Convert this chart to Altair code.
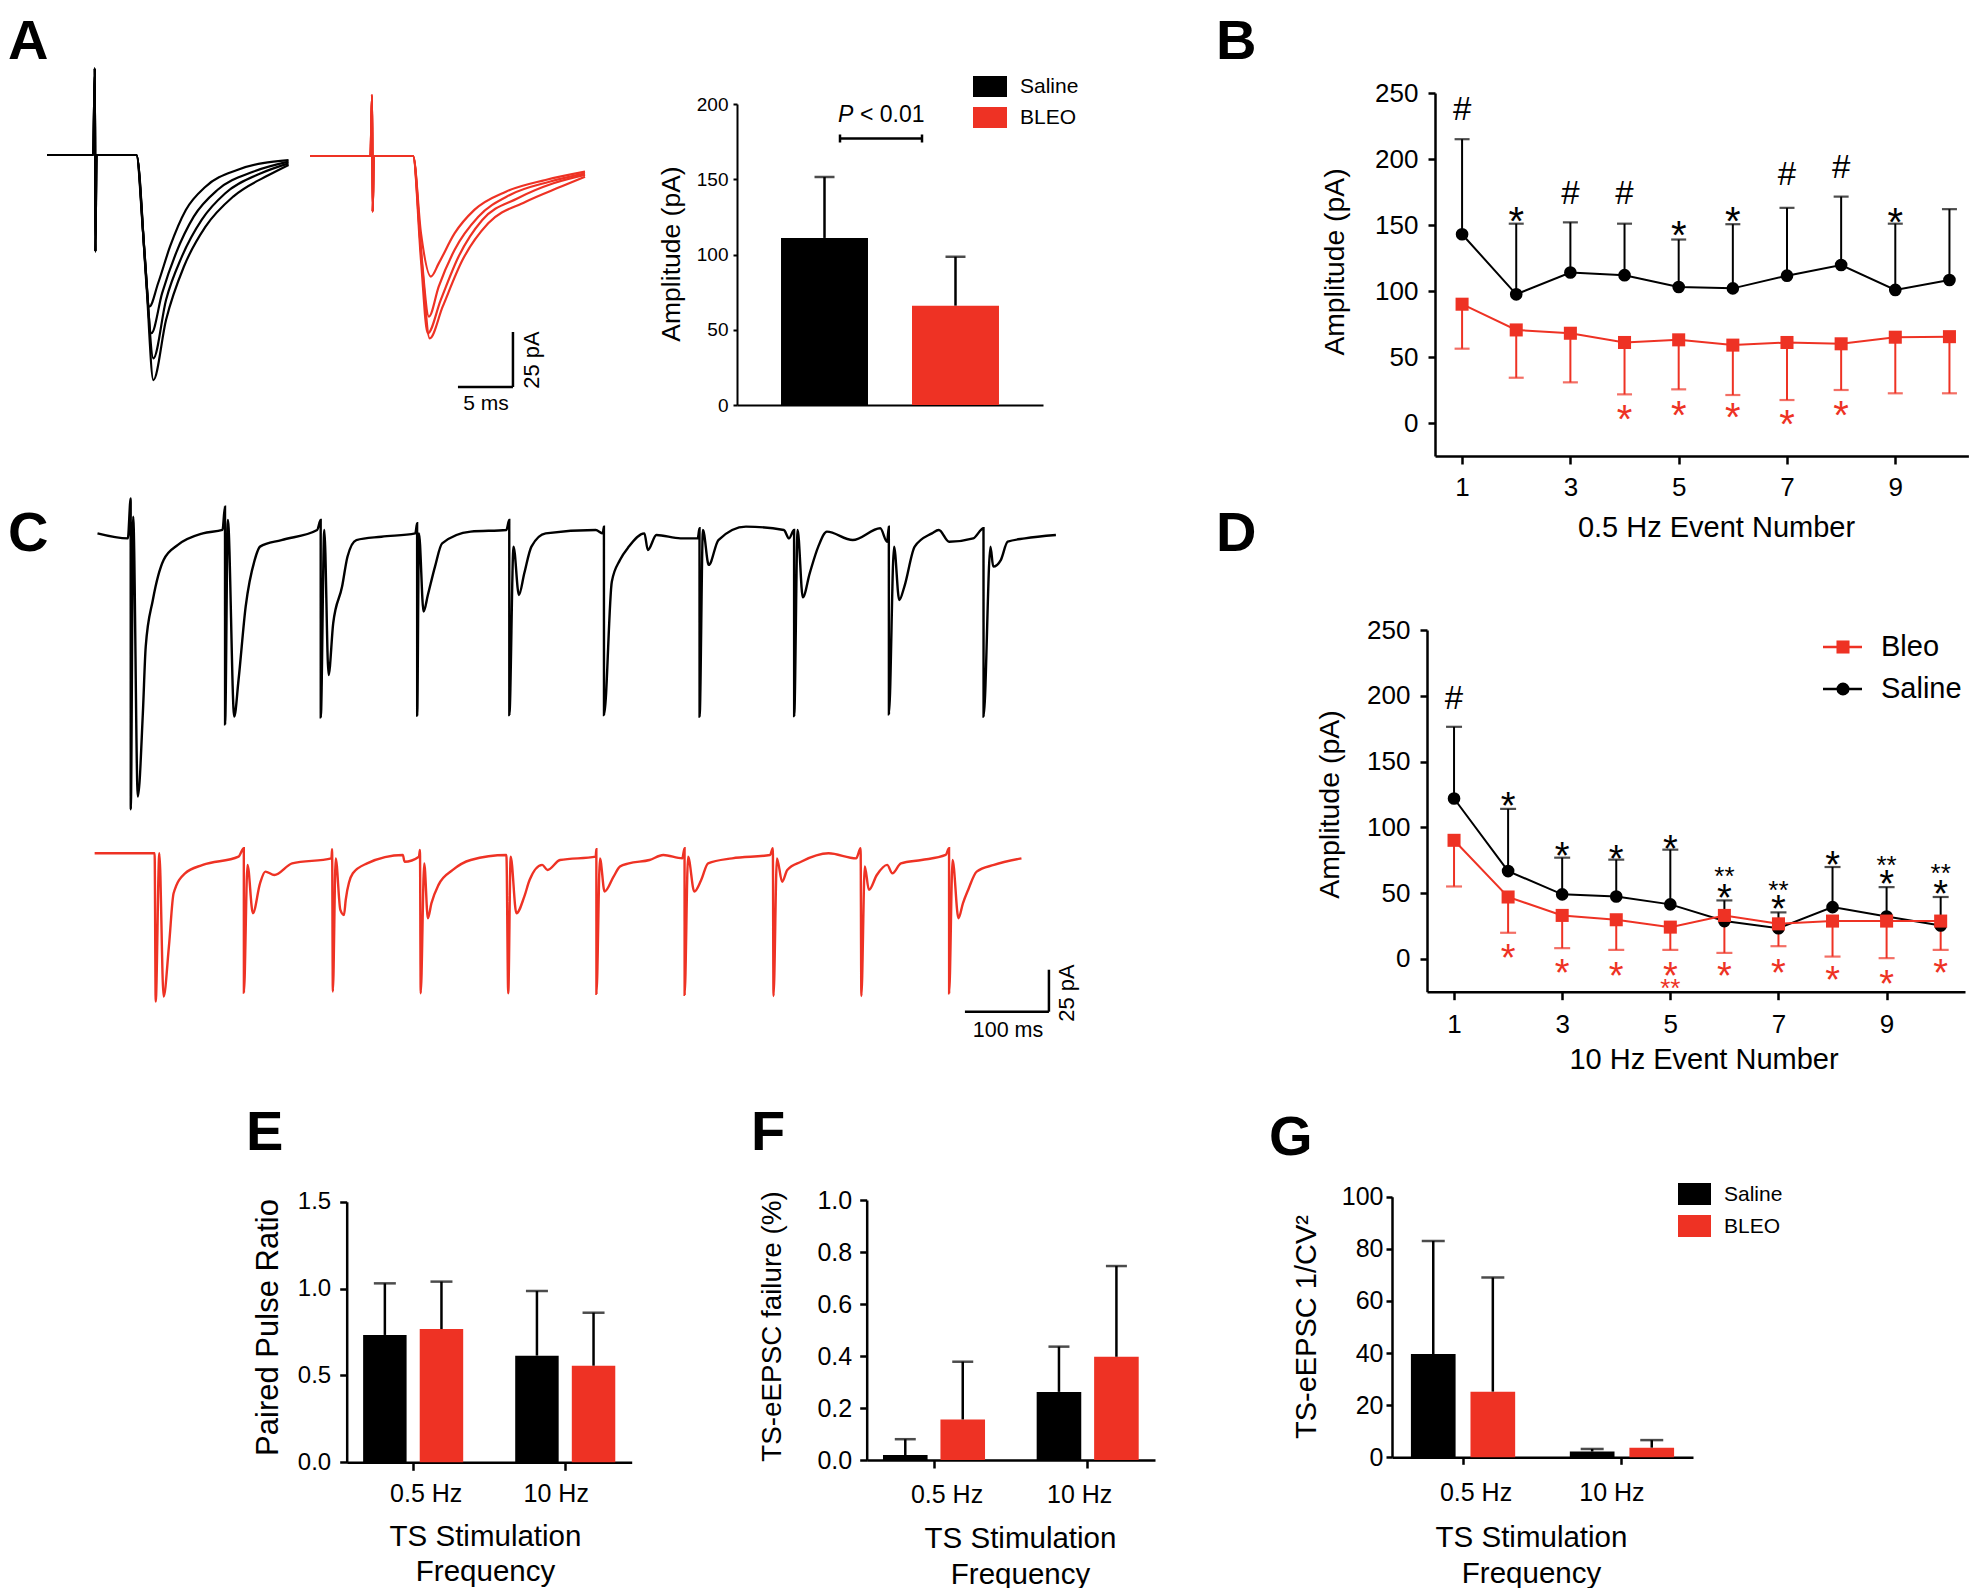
import altair as alt
import pandas as pd

W, H = 1964, 1580
FONT = "Liberation Sans"
BLK = "#000000"
RED = "#EE3224"

groups = ["Saline", "BLEO"]
freqs = ["0.5 Hz", "10 Hz"]
events = [1, 2, 3, 4, 5, 6, 7, 8, 9, 10]

# ---------------- Panel A : example sweeps (time ms, current pA) ----------------
a_saline_pre = [(0, 0), (4.2, 0), (4.35, 39.4), (4.4, -43.9), (4.5, 0), (8.13, 0)]
a_saline_sweeps = [
    [(8.74, -35.6), (9.31, -68.9), (10.10, -58.3), (11.18, -41.7), (12.62, -25.0), (14.41, -14.4), (17.29, -6.8), (21.96, -2.3)],
    [(8.85, -43.2), (9.49, -81.0), (10.46, -62.9), (11.72, -44.7), (13.34, -28.0), (15.49, -15.9), (18.73, -7.6), (21.96, -3.0)],
    [(8.95, -50.8), (9.67, -92.4), (10.82, -65.9), (12.26, -46.2), (14.06, -29.5), (16.21, -17.4), (19.45, -8.3), (21.96, -3.8)],
    [(9.03, -58.3), (9.67, -102.3), (10.82, -75.0), (12.44, -50.8), (14.41, -32.6), (16.93, -18.9), (20.16, -9.1), (21.96, -4.5)],
]
a_bleo_pre = [(0, 0), (5.5, 0), (5.64, 27.7), (5.7, -25.3), (5.8, 0), (9.37, 0)]
a_bleo_sweeps = [
    [(10.09, -35.2), (10.99, -54.8), (11.70, -48.8), (13.14, -35.2), (14.94, -24.5), (17.81, -16.2), (21.41, -10.9), (25.0, -7.1)],
    [(10.09, -42.7), (10.81, -73.0), (11.70, -59.4), (13.14, -42.7), (15.30, -27.6), (18.17, -17.7), (21.77, -11.7), (25.0, -7.9)],
    [(10.09, -47.3), (10.70, -80.6), (11.88, -65.5), (13.50, -45.8), (15.66, -29.1), (18.89, -19.2), (22.13, -12.4), (25.0, -8.6)],
    [(10.20, -50.3), (10.88, -82.9), (12.06, -68.5), (13.86, -47.3), (16.20, -30.6), (19.61, -20.8), (22.84, -13.9), (25.0, -9.4)],
]
a_amp_mean = [111.0, 66.0]
a_amp_sd = [40.5, 32.5]

# ---------------- Panel B : 0.5 Hz ----------------
b_saline_mean = [143, 97.5, 114, 112, 103, 102, 111.6, 119.7, 100.8, 108.3]
b_saline_sd = [72, 53.5, 38, 39, 36, 48.6, 51.4, 51.8, 50.2, 53.7]
b_bleo_mean = [90, 70.5, 68, 61, 63, 59, 61, 60, 65, 65.4]
b_bleo_sd = [33.7, 36.2, 37.2, 39.3, 37.5, 37.8, 43.6, 35, 42.5, 42.9]
b_hash_events = [1, 3, 4, 7, 8]
b_hash_y = [238.6, 175, 175, 189, 194]
b_star_events = [2, 5, 6, 9]
b_star_y = [160, 149.5, 160, 159]
b_rstar_events = [4, 5, 6, 7, 8]
b_rstar_y = [9.8, 12.9, 11, 6, 12.9]

# ---------------- Panel C : 10 Hz trains (time ms, current pA) ----------------
c_saline_trace = [
    (0, -0.2), (36.1, -3.2), (39.5, 20.6), (39.6, -164.5), (42.5, 9.7), (48.0, -156.9), (54.0, -107.3), (57.4, -67.7),
    (65.9, -39.9), (78.7, -16.1), (95.7, -7.1), (125.4, -0.2), (148.8, 1.8),
    (151.8, 15.7), (151.9, -113.9), (155.2, 7.7), (162.8, -109.3), (167.9, -87.5), (176.4, -43.8), (187.1, -16.1),
    (193.5, -8.1), (219.0, -4.2), (261.5, 1.8),
    (265.7, 7.7), (265.8, -109.7), (270.0, 1.8), (275.1, -84.5), (280.6, -53.8), (291.2, -31.9), (297.6, -14.1),
    (308.2, -4.2), (338.0, -2.2), (378.4, -0.2),
    (380.5, 5.8), (380.6, -108.7), (382.7, -0.2), (388.2, -46.8), (393.3, -36.9), (401.8, -20.0), (410.3, -6.2),
    (444.3, 0.8), (486.8, 1.8),
    (490.2, 7.7), (490.3, -108.3), (495.3, -8.1), (501.7, -36.9), (508.1, -24.0), (516.6, -8.1), (533.6, -0.2),
    (593.1, 1.8), (601.6, -0.2),
    (602.9, 3.8), (603.0, -108.3), (612.3, -29.0), (622.0, -16.1), (632.6, -8.1), (651.1, -0.2), (655.2, -10.1),
    (665.4, -1.2), (694.1, -3.2), (714.6, -3.2),
    (716.7, 2.8), (716.8, -109.3), (720.8, 1.8), (727.7, -19.0), (739.2, -4.2), (772.0, 3.8), (817.1, 1.8), (823.3, -3.2),
    (829.3, 1.8), (829.4, -108.9), (833.5, 1.8), (839.7, -38.3), (847.9, -24.0), (858.1, -8.1), (868.4, 0.8),
    (899.1, -4.2), (931.9, 2.8), (940.1, -5.2),
    (942.1, 3.8), (942.2, -107.9), (948.3, -8.1), (954.5, -39.9), (960.6, -31.9), (972.9, -8.1), (993.4, -0.2),
    (1001.6, 1.8), (1013.9, -5.2), (1042.6, -3.2),
    (1054.8, 2.8), (1054.9, -109.3), (1063.1, -8.1), (1066.4, -20.0), (1075.4, -16.1), (1083.6, -5.2), (1104.1, -3.2),
    (1141.0, -1.2),
]
c_bleo_trace = [
    (-3.4, 0), (68.0, 0), (69.3, -88.3), (73.6, 0), (78.7, -85.3), (85.0, -55.6), (90.6, -23.8), (104.2, -11.9),
    (125.4, -6.9), (167.9, -2.0),
    (174.2, 3.0), (174.3, -82.9), (178.6, -6.9), (185.0, -35.7), (193.5, -17.9), (199.8, -10.9), (210.5, -12.9),
    (231.7, -6.0), (278.5, -3.0),
    (279.3, 2.4), (280.2, -82.3), (283.6, -3.0), (289.1, -33.7), (293.4, -36.7), (295.5, -27.8), (304.0, -11.9),
    (321.0, -6.0), (363.5, -1.0), (365.6, -5.0), (382.7, -2.0),
    (383.9, 2.0), (384.8, -83.3), (389.0, -6.0), (393.3, -38.7), (397.5, -29.8), (406.0, -18.8), (423.0, -9.9),
    (444.3, -4.0), (486.8, -1.0),
    (489.0, -83.3), (491.9, -2.0), (498.7, -35.7), (508.1, -25.8), (514.4, -15.9), (529.4, -6.9), (535.7, -9.9),
    (550.6, -4.0), (593.1, -2.0),
    (593.9, 2.4), (594.0, -83.7), (598.2, -3.0), (603.7, -22.8), (614.4, -13.9), (622.0, -7.9), (632.6, -6.0),
    (657.2, -4.0), (673.6, -1.0), (696.2, -3.0),
    (698.9, 3.0), (699.0, -84.3), (703.1, -2.0), (710.5, -22.8), (718.7, -15.9), (726.9, -6.0), (755.6, -3.0),
    (800.7, -1.0),
    (804.0, 3.0), (804.8, -84.9), (808.9, -3.0), (815.1, -16.9), (821.2, -9.9), (837.6, -5.0), (870.4, 0),
    (903.2, -3.0),
    (908.5, 3.0), (909.4, -84.9), (913.5, -7.9), (918.4, -21.8), (927.8, -12.9), (940.1, -6.9), (946.3, -11.9),
    (956.5, -6.0), (981.1, -4.0), (1009.8, -1.0),
    (1013.8, 3.0), (1013.9, -83.3), (1018.0, -4.0), (1025.0, -38.7), (1030.3, -29.8), (1036.5, -21.8),
    (1046.7, -10.9), (1067.2, -6.9), (1100.0, -3.0),
]

# ---------------- Panel D : 10 Hz ----------------
d_saline_mean = [121.9, 66.7, 49, 47.4, 41.4, 28.7, 23.3, 39.3, 32.2, 25.4]
d_saline_sd = [54.5, 47.3, 27.9, 28, 41.6, 15.7, 12, 30.5, 22.3, 21.6]
d_bleo_mean = [90.1, 47, 33, 29.7, 24.1, 33, 26.6, 28.7, 28.7, 28.7]
d_bleo_sd = [35.1, 27.2, 24.9, 22.9, 17.3, 28.5, 17, 27, 28.2, 21.9]
d_hash_events = [1]
d_hash_y = [199]
d_star_events = [2, 3, 4, 5, 6, 7, 8, 9, 10]
d_star_y = [123, 85, 82.5, 90.6, 53.3, 44.4, 78, 63.4, 55.8]
d_dstar_events = [6, 7, 9, 10]
d_dstar_y = [67.3, 57, 76, 69.8]
d_rstar_events = [2, 3, 4, 5, 6, 7, 8, 9, 10]
d_rstar_y = [7.6, -3.8, -6.4, -6.4, -6.4, -3.8, -9.4, -12, -3.8]
d_rdstar_events = [5]
d_rdstar_y = [-17.8]

# ---------------- Panels E, F, G ----------------
e_saline, e_saline_sd = [0.733, 0.614], [0.297, 0.372]
e_bleo, e_bleo_sd = [0.767, 0.556], [0.273, 0.305]
f_saline, f_saline_sd = [0.019, 0.262], [0.061, 0.174]
f_bleo, f_bleo_sd = [0.156, 0.397], [0.222, 0.349]
g_saline, g_saline_sd = [39.6, 2.2], [43.4, 1.0]
g_bleo, g_bleo_sd = [25.2, 3.7], [43.8, 2.9]


# ================= helpers =================
def lin(domain, rng):
    return alt.Scale(domain=domain, range=rng, nice=False, zero=False)


def ax_left(px, values, fmt, lsize, tsize, lpad, title=None, tfs=28, tx=0, ty=0, width=2.5):
    kw = dict(orient="left", offset=-px, values=values, format=fmt, labelFontSize=lsize, labelFont=FONT,
              labelColor=BLK, tickSize=tsize, labelPadding=lpad, tickColor=BLK, domainColor=BLK,
              tickWidth=width, domainWidth=width, grid=False, labelFlush=False, labelOverlap=False)
    if title is not None:
        kw.update(title=title, titleFont=FONT, titleFontSize=tfs, titleFontWeight="normal", titleColor=BLK,
                  titleX=tx, titleY=ty, titleAngle=270, titleAlign="center", titleBaseline="middle")
    else:
        kw["title"] = None
    return alt.Axis(**kw)


def ax_bottom(py, values=None, fmt=None, lsize=25, tsize=8, lpad=10, title=None, tfs=29, tx=0, ty=0,
              labels=True, ticks=True, width=2.5, lh=35, loff=None):
    kw = dict(orient="bottom", offset=py - H, labelFontSize=lsize, labelFont=FONT, labelColor=BLK,
              tickSize=tsize, labelPadding=lpad, tickColor=BLK, domainColor=BLK, tickWidth=width,
              domainWidth=width, grid=False, labelFlush=False, labelOverlap=False, labels=labels,
              ticks=ticks, labelAngle=0)
    if values is not None:
        kw["values"] = values
    if fmt is not None:
        kw["format"] = fmt
    if loff is not None:
        kw["labelOffset"] = {"condition": {"test": "datum.value == '%s'" % freqs[0], "value": loff[0]},
                             "value": loff[1]}
    if title is not None:
        kw.update(title=title, titleFont=FONT, titleFontSize=tfs, titleFontWeight="normal", titleColor=BLK,
                  titleX=tx, titleY=ty, titleAlign="center", titleBaseline="alphabetic", titleLineHeight=lh)
    else:
        kw["title"] = None
    return alt.Axis(**kw)


def txt(label, x, y, size, weight="normal", align="left", baseline="alphabetic", angle=0, color=BLK,
        style="normal"):
    props = dict(font=FONT, fontSize=size, fontWeight=weight, align=align, baseline=baseline, color=color,
                 fontStyle=style)
    if angle:
        props["angle"] = angle
    return alt.Chart(pd.DataFrame({"label": [label]})).mark_text(**props).encode(
        x=alt.value(x), y=alt.value(y), text="label:N")


def sweeps_df(pre, sweeps):
    rows = []
    for k, sw in enumerate(sweeps):
        for i, (t, v) in enumerate(pre + sw):
            rows.append({"t": t, "v": v, "sweep": k, "i": i})
    return pd.DataFrame(rows)


def trace_df(points):
    return pd.DataFrame({"t": [p[0] for p in points], "v": [p[1] for p in points],
                         "i": list(range(len(points)))})


def trace_layer(df, xs, ys, color, width, detail=False):
    enc = dict(x=alt.X("t:Q", scale=xs, axis=None), y=alt.Y("v:Q", scale=ys, axis=None), order="i:Q")
    if detail:
        enc["detail"] = "sweep:N"
    return alt.Chart(df).mark_line(color=color, strokeWidth=width, interpolate="monotone").encode(**enc)


def scalebar(xs, ys, t0, v0, dt, dv, width=2.5):
    df = pd.DataFrame({"t0": [t0], "t1": [t0 + dt], "v0": [v0], "v1": [v0 + dv]})
    h = alt.Chart(df).mark_rule(color=BLK, strokeWidth=width).encode(
        x=alt.X("t0:Q", scale=xs, axis=None), x2="t1:Q", y=alt.Y("v0:Q", scale=ys, axis=None))
    v = alt.Chart(df).mark_rule(color=BLK, strokeWidth=width).encode(
        x=alt.X("t1:Q", scale=xs, axis=None), y=alt.Y("v0:Q", scale=ys, axis=None), y2="v1:Q")
    return [h, v]


def line_panel(xs, ys, sal_m, sal_sd, ble_m, ble_sd, xaxis, yaxis, cap):
    ds = pd.DataFrame({"event": events, "m": sal_m, "sd": sal_sd})
    ds["hi"] = ds["m"] + ds["sd"]
    dr = pd.DataFrame({"event": events, "m": ble_m, "sd": ble_sd})
    dr["lo"] = dr["m"] - dr["sd"]

    def X(ax=None):
        return alt.X("event:Q", scale=xs, axis=ax)

    def Y(f, ax=None):
        return alt.Y(f, scale=ys, axis=ax)

    L = [
        alt.Chart(ds).mark_rule(color=BLK, strokeWidth=2).encode(x=X(xaxis), y=Y("m:Q", yaxis), y2="hi:Q"),
        alt.Chart(ds).mark_tick(color=BLK, thickness=2.2, size=cap, orient="horizontal").encode(x=X(), y=Y("hi:Q")),
        alt.Chart(dr).mark_rule(color=RED, strokeWidth=2).encode(x=X(), y=Y("m:Q"), y2="lo:Q"),
        alt.Chart(dr).mark_tick(color=RED, thickness=2.2, size=cap, orient="horizontal").encode(x=X(), y=Y("lo:Q")),
        alt.Chart(ds).mark_line(color=BLK, strokeWidth=2).encode(x=X(), y=Y("m:Q")),
        alt.Chart(dr).mark_line(color=RED, strokeWidth=2).encode(x=X(), y=Y("m:Q")),
        alt.Chart(ds).mark_point(filled=True, shape="circle", size=160, color=BLK, opacity=1).encode(x=X(), y=Y("m:Q")),
        alt.Chart(dr).mark_point(filled=True, shape="square", size=170, color=RED, opacity=1).encode(x=X(), y=Y("m:Q")),
    ]
    return L


def ann(xs, ys, ev, yv, sym, color, size, dy):
    df = pd.DataFrame({"event": ev, "y": yv, "s": [sym] * len(ev)})
    return alt.Chart(df).mark_text(font=FONT, fontSize=size, color=color, baseline="alphabetic", align="center",
                                   dy=dy).encode(
        x=alt.X("event:Q", scale=xs, axis=None), y=alt.Y("y:Q", scale=ys, axis=None), text="s:N")


def bar_panel(sal, sal_sd, ble, ble_sd, xs, xo, ys, xaxis, yaxis, cap):
    df = pd.DataFrame({
        "freq": freqs * 2,
        "group": [groups[0]] * 2 + [groups[1]] * 2,
        "m": sal + ble,
        "sd": sal_sd + ble_sd,
    })
    df["hi"] = df["m"] + df["sd"]
    col = alt.Color("group:N", scale=alt.Scale(domain=groups, range=[BLK, RED]), legend=None)

    def X(ax=None):
        return alt.X("freq:N", scale=xs, axis=ax)

    def XO():
        return alt.XOffset("group:N", scale=xo)

    return [
        alt.Chart(df).mark_bar().encode(x=X(xaxis), xOffset=XO(), y=alt.Y("m:Q", scale=ys, axis=yaxis), color=col),
        alt.Chart(df).mark_rule(color=BLK, strokeWidth=2.5).encode(
            x=X(), xOffset=XO(), y=alt.Y("m:Q", scale=ys, axis=None), y2="hi:Q"),
        alt.Chart(df).mark_tick(color=BLK, thickness=2.5, size=cap, orient="horizontal").encode(
            x=X(), xOffset=XO(), y=alt.Y("hi:Q", scale=ys, axis=None)),
    ]


layers = []

# ---------------- A traces ----------------
xa_s, ya_s = lin([0, 22], [39, 281]), lin([-110, 45], [389, 48])
xa_b, ya_b = lin([0, 25], [302, 577]), lin([-110, 45], [390, 49])
layers.append(trace_layer(sweeps_df(a_saline_pre, a_saline_sweeps), xa_s, ya_s, BLK, 2.2, detail=True))
layers.append(trace_layer(sweeps_df(a_bleo_pre, a_bleo_sweeps), xa_b, ya_b, RED, 2.2, detail=True))
layers += scalebar(xa_b, ya_b, 13.45, -105, 5, 25)
layers.append(txt("5 ms", 478, 402, 21, align="center"))
layers.append(txt("25 pA", 524, 352, 22, align="center", baseline="middle", angle=270))

# ---------------- A bar ----------------
xab = alt.Scale(domain=groups, range=[729, 1035], paddingInner=0.336, paddingOuter=0.336)
yab = lin([0, 200], [397, 96])
dfa = pd.DataFrame({"group": groups, "m": a_amp_mean, "sd": a_amp_sd})
dfa["hi"] = dfa["m"] + dfa["sd"]
layers.append(alt.Chart(dfa).mark_bar().encode(
    x=alt.X("group:N", scale=xab, axis=ax_bottom(397, labels=False, ticks=False, width=2)),
    y=alt.Y("m:Q", scale=yab, axis=ax_left(729, [0, 50, 100, 150, 200], "d", 19, 4, 5, title="Amplitude (pA)",
                                            tfs=26.5, tx=-66, ty=245.5, width=2)),
    color=alt.Color("group:N", scale=alt.Scale(domain=groups, range=[BLK, RED]), legend=None)))
layers.append(alt.Chart(dfa).mark_rule(color=BLK, strokeWidth=2.5).encode(
    x=alt.X("group:N", scale=xab, axis=None), y=alt.Y("m:Q", scale=yab, axis=None), y2="hi:Q"))
layers.append(alt.Chart(dfa).mark_tick(color=BLK, thickness=2.5, size=20, orient="horizontal").encode(
    x=alt.X("group:N", scale=xab, axis=None), y=alt.Y("hi:Q", scale=yab, axis=None)))
# significance bracket
one = pd.DataFrame({"k": [0]})
layers.append(alt.Chart(one).mark_rule(color=BLK, strokeWidth=2.5).encode(
    x=alt.value(832), x2=alt.value(914), y=alt.value(130.5)))
for bx in (832, 914):
    layers.append(alt.Chart(one).mark_rule(color=BLK, strokeWidth=2.5).encode(
        x=alt.value(bx), y=alt.value(126.5), y2=alt.value(134.5)))
layers.append(txt("P", 830, 113.5, 23, style="italic"))
layers.append(txt("< 0.01", 852, 113.5, 23))
# legend A
for lab, col, y0 in ((groups[0], BLK, 68), (groups[1], RED, 99)):
    layers.append(alt.Chart(pd.DataFrame({"label": [lab]})).mark_rect(color=col).encode(
        x=alt.value(965), x2=alt.value(999), y=alt.value(y0), y2=alt.value(y0 + 21)))
    layers.append(txt(lab, 1012, y0 + 11, 21, baseline="middle"))

# ---------------- B ----------------
xb, yb = lin([0.5, 10.35], [1427, 1960.4]), lin([-25, 250], [448, 85])
layers += line_panel(
    xb, yb, b_saline_mean, b_saline_sd, b_bleo_mean, b_bleo_sd,
    ax_bottom(448, values=[1, 3, 5, 7, 9], fmt="d", lsize=26, tsize=8, lpad=10.5,
              title="0.5 Hz Event Number", tfs=29, tx=1708, ty=80.7),
    ax_left(1427, [0, 50, 100, 150, 200, 250], "d", 26, 7, 10, title="Amplitude (pA)", tfs=28.3,
            tx=-100, ty=253.5),
    15)
layers.append(ann(xb, yb, b_hash_events, b_hash_y, "#", BLK, 33, 11.5))
layers.append(ann(xb, yb, b_star_events, b_star_y, "*", BLK, 40, 23))
layers.append(ann(xb, yb, b_rstar_events, b_rstar_y, "*", RED, 40, 23))

# ---------------- C ----------------
xc = lin([-5, 1141], [85.3, 1047.9])
yc_s = lin([-170, 25], [810.6, 483])
yc_b = lin([-100, 25], [1013.3, 803.3])
layers.append(trace_layer(trace_df(c_saline_trace), xc, yc_s, BLK, 2.4))
layers.append(trace_layer(trace_df(c_bleo_trace), xc, yc_b, RED, 2.4))
layers += scalebar(xc, yc_b, 1032.7, -94.3, 100, 25)
layers.append(txt("100 ms", 1000, 1028.7, 21.5, align="center"))
layers.append(txt("25 pA", 1059, 985, 22, align="center", baseline="middle", angle=270))

# ---------------- D ----------------
xd, yd = lin([0.5, 10.45], [1419, 1957]), lin([-25, 250], [983.7, 622])
layers += line_panel(
    xd, yd, d_saline_mean, d_saline_sd, d_bleo_mean, d_bleo_sd,
    ax_bottom(983.7, values=[1, 3, 5, 7, 9], fmt="d", lsize=26, tsize=8, lpad=11.5,
              title="10 Hz Event Number", tfs=29, tx=1695.5, ty=76.7),
    ax_left(1419, [0, 50, 100, 150, 200, 250], "d", 26, 7, 10, title="Amplitude (pA)", tfs=28.5,
            tx=-98, ty=796),
    16)
layers.append(ann(xd, yd, d_hash_events, d_hash_y, "#", BLK, 33, 11.5))
layers.append(ann(xd, yd, d_star_events, d_star_y, "*", BLK, 38, 22))
layers.append(ann(xd, yd, d_dstar_events, d_dstar_y, "**", BLK, 26, 15))
layers.append(ann(xd, yd, d_rstar_events, d_rstar_y, "*", RED, 38, 22))
layers.append(ann(xd, yd, d_rdstar_events, d_rdstar_y, "**", RED, 26, 15))
# legend D
for lab, col, shp, yy in (("Bleo", RED, "square", 639), ("Saline", BLK, "circle", 681)):
    d1 = pd.DataFrame({"label": [lab]})
    layers.append(alt.Chart(d1).mark_rule(color=col, strokeWidth=2.5).encode(
        x=alt.value(1815), x2=alt.value(1854), y=alt.value(yy)))
    layers.append(alt.Chart(d1).mark_point(shape=shp, filled=True, size=170, color=col, opacity=1).encode(
        x=alt.value(1835), y=alt.value(yy)))
    layers.append(txt(lab, 1873, yy, 29, baseline="middle"))

# ---------------- E ----------------
xe = alt.Scale(domain=freqs, range=[338.7, 623.7], paddingInner=0.342, paddingOuter=0.108)
xoe = alt.Scale(domain=groups, paddingInner=0.232, paddingOuter=0)
ye = lin([0, 1.5], [1454.3, 1193.7])
layers += bar_panel(
    e_saline, e_saline_sd, e_bleo, e_bleo_sd, xe, xoe, ye,
    ax_bottom(1454.3, lsize=25, tsize=8, lpad=11, title=["TS Stimulation", "Frequency"], tfs=29.5,
              tx=477, ty=83, lh=35, loff=(13, -9)),
    ax_left(338.7, [0, 0.5, 1.0, 1.5], ".1f", 24, 7, 9, title="Paired Pulse Ratio", tfs=31, tx=-78.7, ty=1319),
    22)

# ---------------- F ----------------
xf = alt.Scale(domain=freqs, range=[858.7, 1147], paddingInner=0.336, paddingOuter=0.106)
xof = alt.Scale(domain=groups, paddingInner=0.224, paddingOuter=0)
yf = lin([0, 1.0], [1452, 1192])
layers += bar_panel(
    f_saline, f_saline_sd, f_bleo, f_bleo_sd, xf, xof, yf,
    ax_bottom(1452, lsize=25, tsize=8, lpad=14, title=["TS Stimulation", "Frequency"], tfs=29.5,
              tx=1012, ty=87, lh=36, loff=(13, -8)),
    ax_left(858.7, [0, 0.2, 0.4, 0.6, 0.8, 1.0], ".1f", 25, 7, 8, title="TS-eEPSC failure (%)", tfs=27.8,
            tx=-94, ty=1318),
    21)

# ---------------- G ----------------
xg = alt.Scale(domain=freqs, range=[1384, 1685], paddingInner=0.344, paddingOuter=0.119)
xog = alt.Scale(domain=groups, paddingInner=0.25, paddingOuter=0)
yg = lin([0, 100], [1449.3, 1188.7])
layers += bar_panel(
    g_saline, g_saline_sd, g_bleo, g_bleo_sd, xg, xog, yg,
    ax_bottom(1449.3, lsize=25, tsize=7, lpad=16, title=["TS Stimulation", "Frequency"], tfs=29.5,
              tx=1523, ty=89, lh=36, loff=(13, -10)),
    ax_left(1384, [0, 20, 40, 60, 80, 100], "d", 25, 6, 3, title="TS-eEPSC 1/CV²", tfs=29, tx=-86, ty=1318.5),
    23)
for lab, col, y0 in ((groups[0], BLK, 1175), (groups[1], RED, 1207)):
    layers.append(alt.Chart(pd.DataFrame({"label": [lab]})).mark_rect(color=col).encode(
        x=alt.value(1670), x2=alt.value(1703), y=alt.value(y0), y2=alt.value(y0 + 22)))
    layers.append(txt(lab, 1716, y0 + 12, 21, baseline="middle"))

# ---------------- panel letters ----------------
for letter, lx, ly in (("A", 0, 51), ("B", 1208, 51), ("C", 0, 543), ("D", 1208, 543),
                       ("E", 238, 1142), ("F", 743, 1142), ("G", 1261, 1147)):
    layers.append(txt(letter, lx, ly, 56, weight="bold"))

chart = (
    alt.layer(*layers)
    .resolve_scale(x="independent", y="independent", xOffset="independent", color="independent")
    .properties(width=W, height=H, autosize=alt.AutoSizeParams(type="none"), padding=0)
    .configure_view(stroke=None)
    .configure_axis(grid=False)
)

chart.save("out.html", embed_options={"renderer": "svg", "actions": False})
